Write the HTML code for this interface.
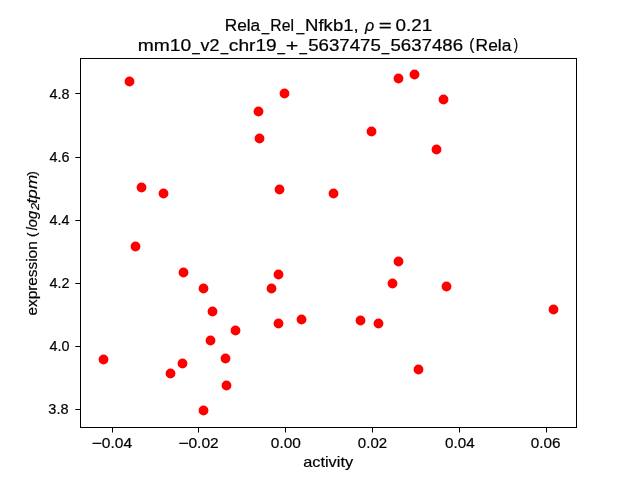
<!DOCTYPE html>
<html>
<head>
<meta charset="utf-8">
<title>Rela_Rel_Nfkb1 scatter</title>
<style>
  html, body { margin: 0; padding: 0; background: #ffffff; }
  body { width: 640px; height: 480px; overflow: hidden; }
  svg { display: block; will-change: transform; }
  text { font-family: "Liberation Sans", sans-serif; fill: #000000; stroke: #000000; stroke-width: 0.18px; stroke-linejoin: round; }
  .tick { font-size: 14.1px; }
  .title { font-size: 17.2px; }
  .title text { stroke-width: 0.22px; }
  .it { font-style: italic; }
</style>
</head>
<body>
<svg width="640" height="480" viewBox="0 0 640 480">
  <rect x="0" y="0" width="640" height="480" fill="#ffffff"/>

  <!-- axes frame (spines on pixel cols 80 / 576, rows 58 / 427) -->
  <g fill="#000000" shape-rendering="crispEdges">
    <rect x="80" y="58" width="497" height="1"/>
    <rect x="80" y="427" width="497" height="1"/>
    <rect x="80" y="58" width="1" height="370"/>
    <rect x="576" y="58" width="1" height="370"/>
  </g>

  <!-- x ticks -->
  <g fill="#000000">
    <rect x="112" y="428" width="1" height="4.5"/>
    <rect x="198" y="428" width="1" height="4.5"/>
    <rect x="285" y="428" width="1" height="4.5"/>
    <rect x="372" y="428" width="1" height="4.5"/>
    <rect x="459" y="428" width="1" height="4.5"/>
    <rect x="546" y="428" width="1" height="4.5"/>
  </g>
  <!-- y ticks -->
  <g fill="#000000">
    <rect x="75.3" y="93" width="4.7" height="1"/>
    <rect x="75.3" y="157" width="4.7" height="1"/>
    <rect x="75.3" y="220" width="4.7" height="1"/>
    <rect x="75.3" y="283" width="4.7" height="1"/>
    <rect x="75.3" y="346" width="4.7" height="1"/>
    <rect x="75.3" y="409" width="4.7" height="1"/>
  </g>

  <!-- x tick labels -->
  <g class="tick">
    <text x="91.4" y="448.2" textLength="10.4" lengthAdjust="spacingAndGlyphs" stroke="none">−</text>
    <text x="101.85" y="448.2" textLength="30.3" lengthAdjust="spacingAndGlyphs">0.04</text>
    <text x="178.3" y="448.2" textLength="10.4" lengthAdjust="spacingAndGlyphs" stroke="none">−</text>
    <text x="188.45" y="448.2" textLength="30.3" lengthAdjust="spacingAndGlyphs">0.02</text>
    <text x="270.85" y="448.2" textLength="30.05" lengthAdjust="spacingAndGlyphs">0.00</text>
    <text x="357.85" y="448.2" textLength="29.3" lengthAdjust="spacingAndGlyphs">0.02</text>
    <text x="444.95" y="448.2" textLength="29.7" lengthAdjust="spacingAndGlyphs">0.04</text>
    <text x="530.85" y="448.2" textLength="29.8" lengthAdjust="spacingAndGlyphs">0.06</text>
  </g>
  <!-- y tick labels -->
  <g class="tick">
    <text x="49.4" y="98.9" textLength="20" lengthAdjust="spacingAndGlyphs">4.8</text>
    <text x="49.4" y="162.2" textLength="20" lengthAdjust="spacingAndGlyphs">4.6</text>
    <text x="49.4" y="225.3" textLength="20" lengthAdjust="spacingAndGlyphs">4.4</text>
    <text x="49.4" y="288.1" textLength="20" lengthAdjust="spacingAndGlyphs">4.2</text>
    <text x="49.4" y="351.1" textLength="20" lengthAdjust="spacingAndGlyphs">4.0</text>
    <text x="48.3" y="414.2" textLength="20.2" lengthAdjust="spacingAndGlyphs">3.8</text>
  </g>

  <!-- axis labels -->
  <text class="tick" x="303.2" y="466.8" textLength="49.9" lengthAdjust="spacingAndGlyphs">activity</text>
  <g transform="translate(37.2,314.8) rotate(-90)">
    <text class="tick" x="-0.8" y="0" textLength="74.3" lengthAdjust="spacingAndGlyphs">expression</text>
    <text class="tick" x="77.9" y="-1" style="font-size:13.2px" textLength="4.6" lengthAdjust="spacingAndGlyphs">(</text>
    <text class="tick it" x="84.4" y="0" textLength="19.5" lengthAdjust="spacingAndGlyphs">log</text>
    <text class="it" x="104.9" y="2.0" font-size="11.2" textLength="7.2" lengthAdjust="spacingAndGlyphs">2</text>
    <text class="tick it" x="111.4" y="0" textLength="28.6" lengthAdjust="spacingAndGlyphs">tpm</text>
    <text class="tick" x="139.1" y="-1" style="font-size:13.2px" textLength="4.6" lengthAdjust="spacingAndGlyphs">)</text>
  </g>

  <!-- title -->
  <g class="title">
    <text x="224.75" y="31.0" textLength="35.44" lengthAdjust="spacingAndGlyphs">Rela</text>
    <text x="261.65" y="31.3" textLength="7.44" lengthAdjust="spacingAndGlyphs">_</text>
    <text x="270.35" y="31.0" textLength="23.69" lengthAdjust="spacingAndGlyphs">Rel</text>
    <text x="296.50" y="31.3" textLength="7.70" lengthAdjust="spacingAndGlyphs">_</text>
    <text x="305.10" y="31.0" textLength="53.56" lengthAdjust="spacingAndGlyphs">Nfkb1,</text>
    <text class="it" x="364.90" y="31.0" textLength="9.22" lengthAdjust="spacingAndGlyphs">ρ</text>
    <text x="378.80" y="31.0" textLength="13.07" lengthAdjust="spacingAndGlyphs">=</text>
    <text x="395.45" y="31.0" textLength="36.75" lengthAdjust="spacingAndGlyphs">0.21</text>
    <text x="137.65" y="50.6" textLength="53.56" lengthAdjust="spacingAndGlyphs">mm10</text>
    <text x="192.25" y="50.9" textLength="7.44" lengthAdjust="spacingAndGlyphs">_</text>
    <text x="200.60" y="50.6" textLength="18.90" lengthAdjust="spacingAndGlyphs">v2</text>
    <text x="220.85" y="50.9" textLength="7.44" lengthAdjust="spacingAndGlyphs">_</text>
    <text x="228.85" y="50.6" textLength="47.79" lengthAdjust="spacingAndGlyphs">chr19</text>
    <text x="277.55" y="50.9" textLength="7.44" lengthAdjust="spacingAndGlyphs">_</text>
    <text x="285.70" y="50.6" textLength="12.56" lengthAdjust="spacingAndGlyphs">+</text>
    <text x="299.45" y="50.9" textLength="7.44" lengthAdjust="spacingAndGlyphs">_</text>
    <text x="308.15" y="50.6" textLength="72.77" lengthAdjust="spacingAndGlyphs">5637475</text>
    <text x="381.85" y="50.9" textLength="7.44" lengthAdjust="spacingAndGlyphs">_</text>
    <text x="390.50" y="50.6" textLength="72.51" lengthAdjust="spacingAndGlyphs">5637486</text>
    <text x="469.30" y="49.6" font-size="16.4" textLength="5.11" lengthAdjust="spacingAndGlyphs">(</text>
    <text x="475.60" y="50.6" textLength="35.70" lengthAdjust="spacingAndGlyphs">Rela</text>
    <text x="513.75" y="49.6" font-size="16.4" textLength="4.30" lengthAdjust="spacingAndGlyphs">)</text>
  </g>

  <!-- points -->
  <g fill="#ff0000" stroke="none">
    <circle cx="129.5" cy="81.5" r="4.9"/>
    <circle cx="258.5" cy="111.5" r="4.9"/>
    <circle cx="284.5" cy="93.5" r="4.9"/>
    <circle cx="259.5" cy="138.5" r="4.9"/>
    <circle cx="371.5" cy="131.5" r="4.9"/>
    <circle cx="398.5" cy="78.5" r="4.9"/>
    <circle cx="414.5" cy="74.5" r="4.9"/>
    <circle cx="443.5" cy="99.5" r="4.9"/>
    <circle cx="436.5" cy="149.5" r="4.9"/>
    <circle cx="141.5" cy="187.5" r="4.9"/>
    <circle cx="163.5" cy="193.5" r="4.9"/>
    <circle cx="135.5" cy="246.5" r="4.9"/>
    <circle cx="183.5" cy="272.5" r="4.9"/>
    <circle cx="203.5" cy="288.5" r="4.9"/>
    <circle cx="279.5" cy="189.5" r="4.9"/>
    <circle cx="333.5" cy="193.5" r="4.9"/>
    <circle cx="278.5" cy="274.5" r="4.9"/>
    <circle cx="271.5" cy="288.5" r="4.9"/>
    <circle cx="392.5" cy="283.5" r="4.9"/>
    <circle cx="398.5" cy="261.5" r="4.9"/>
    <circle cx="446.5" cy="286.5" r="4.9"/>
    <circle cx="212.5" cy="311.5" r="4.9"/>
    <circle cx="235.5" cy="330.5" r="4.9"/>
    <circle cx="210.5" cy="340.5" r="4.9"/>
    <circle cx="103.5" cy="359.5" r="4.9"/>
    <circle cx="225.5" cy="358.5" r="4.9"/>
    <circle cx="182.5" cy="363.5" r="4.9"/>
    <circle cx="170.5" cy="373.5" r="4.9"/>
    <circle cx="226.5" cy="385.5" r="4.9"/>
    <circle cx="203.5" cy="410.5" r="4.9"/>
    <circle cx="278.5" cy="323.5" r="4.9"/>
    <circle cx="301.5" cy="319.5" r="4.9"/>
    <circle cx="360.5" cy="320.5" r="4.9"/>
    <circle cx="378.5" cy="323.5" r="4.9"/>
    <circle cx="553.5" cy="309.5" r="4.9"/>
    <circle cx="418.5" cy="369.5" r="4.9"/>
  </g>
</svg>
</body>
</html>
